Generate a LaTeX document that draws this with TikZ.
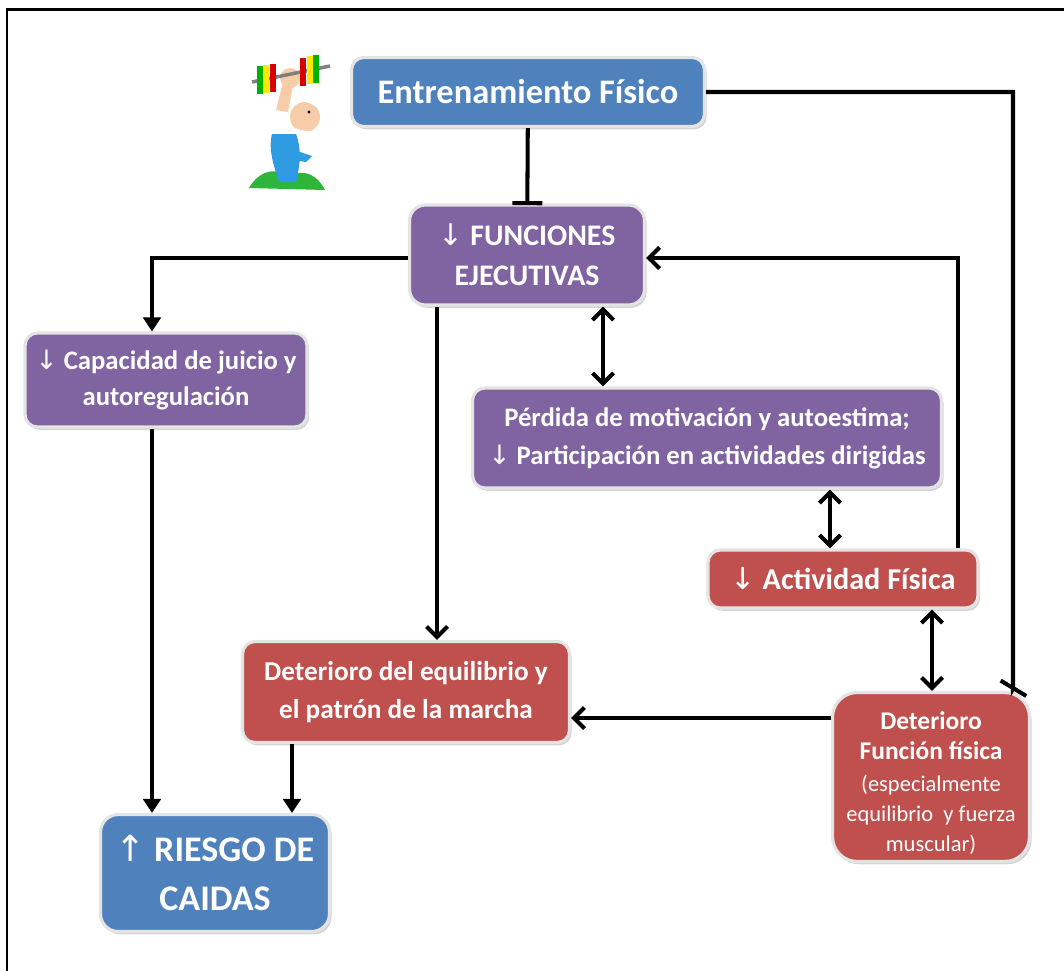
\documentclass[tikz,border=0pt]{standalone}
\usepackage{fontspec}
\setmainfont{Carlito}
\newfontfamily\arrowfont{DejaVu Sans}
\usetikzlibrary{arrows.meta, positioning, shadows, calc}
\definecolor{boxblue}{HTML}{4F81BD}
\definecolor{boxpurple}{HTML}{8064A2}
\definecolor{boxred}{HTML}{C0504D}
\definecolor{rim}{HTML}{E4E4E4}
\definecolor{suit}{HTML}{2F9BE3}
\definecolor{skin}{HTML}{F6CDA8}
\definecolor{grass}{HTML}{2FB53A}
\tikzstyle{box} = [rectangle, rounded corners=7pt, draw=rim, line width=1.8pt, text=white, font=\bfseries, align=center, inner sep=1pt, drop shadow={shadow xshift=1.2pt, shadow yshift=-1.6pt, opacity=0.35}]
\tikzstyle{bluebox} = [box, fill=boxblue]
\tikzstyle{purplebox} = [box, fill=boxpurple]
\tikzstyle{redbox} = [box, fill=boxred]
\tikzstyle{link} = [line width=2.3pt, -{Straight Barb[length=6pt,width=12pt]}]
\tikzstyle{both} = [line width=2.3pt, {Straight Barb[length=6pt,width=12pt]}-{Straight Barb[length=6pt,width=12pt]}]
\tikzstyle{fall} = [line width=2.3pt, -{Triangle[length=8pt,width=10pt]}]
\tikzstyle{stop} = [line width=2.3pt, -{Bar[width=17pt]}]
\newcommand{\dn}{{\arrowfont\mdseries\char"2193}}
\newcommand{\up}{{\arrowfont\mdseries\char"2191}}
\newcommand{\note}{\mdseries\fontsize{12.8}{15}\selectfont}

\begin{document}
\begin{tikzpicture}[x=0.02cm, y=-0.02cm]
    \useasboundingbox (0,0) rectangle (1064,970);
    \draw[line width=1.7pt] (7,990) -- (7,9.5) -- (1080,9.5);

    % boxes
    \node[bluebox, minimum width=7.06cm, minimum height=1.38cm, font=\bfseries\fontsize{19.6}{23}\selectfont] (ent) at (528,92) {Entrenamiento Físico};
    \node[purplebox, rounded corners=9pt, minimum width=4.7cm, minimum height=2cm, font=\bfseries\fontsize{17}{22.7}\selectfont] (fun) at (527,255) {\dn\ FUNCIONES\\EJECUTIVAS};
    \node[purplebox, minimum width=5.64cm, minimum height=1.88cm, font=\bfseries\fontsize{15.2}{21}\selectfont] (cap) at (166,380) {\dn\ Capacidad de juicio y\\autoregulación};
    \node[purplebox, minimum width=9.38cm, minimum height=2cm, font=\bfseries\fontsize{15.2}{21.5}\selectfont] (per) at (707,438) {Pérdida de motivación y autoestima;\\\dn\ Participación en actividades dirigidas};
    \node[redbox, minimum width=5.4cm, minimum height=1.16cm, font=\bfseries\fontsize{17.2}{20}\selectfont] (act) at (843,579) {\dn\ Actividad Física};
    \node[redbox, minimum width=6.54cm, minimum height=2.02cm, font=\bfseries\fontsize{15.5}{22}\selectfont] (deq) at (406,692) {Deterioro del equilibrio y\\el patrón de la marcha};
    \node[redbox, rounded corners=14pt, minimum width=3.94cm, minimum height=3.38cm, font=\bfseries\fontsize{14.5}{17}\selectfont] (dff) at (931,777)
        {\rule{0pt}{17pt}Deterioro\\Función física\\[1.5pt]{\note (especialmente}\\{\note equilibrio\ \ y fuerza}\\{\note muscular)}};
    \node[bluebox, rounded corners=10pt, minimum width=4.58cm, minimum height=2.34cm, font=\bfseries\fontsize{20.5}{27.5}\selectfont] (rie) at (215,873) {\up\ RIESGO DE\\CAIDAS};

    \coordinate (rt) at (1013,92);
    \coordinate (lt) at (152,258);
    \coordinate (rb) at (958,258);

    % connectors
    \draw[stop, shorten >=-1pt] (ent) -- (fun);
    \draw[stop] (ent.east) -- (rt) -- (1013,689) -- ++(-0.6,1);
    \draw[fall] (fun.west |- lt) -- (lt) -- (lt |- cap.north);
    \draw[link] (rb |- act.north) -- (rb) -- (fun.east |- rb);
    \draw[link] (fun.south -| 437,0) -- (deq.north -| 437,0);
    \draw[both] (fun.south -| 603,0) -- (per.north -| 603,0);
    \draw[both] (per.south -| 830,0) -- (act.north -| 830,0);
    \draw[both] (act.south -| 932,0) -- (dff.north -| 932,0);
    \draw[link] (dff.west |- 0,718) -- (deq.east |- 0,718);
    \draw[fall] (cap.south -| 152,0) -- (rie.north -| 152,0);
    \draw[fall] (deq.south -| 292,0) -- (rie.north -| 292,0);

    % little man with the dumbbell
    \fill[grass] (249,188) .. controls (262,166) and (280,170) .. (290,176) .. controls (305,168) and (318,176) .. (325,190) -- cycle;
    \fill[suit] (272,134) .. controls (268,150) and (274,166) .. (279,182) -- (296,182) .. controls (300,165) and (302,150) .. (296,134) -- cycle;
    \fill[suit] (294,150) -- (312,156) -- (306,162) -- (293,160) -- cycle;
    \fill[white] (266,112) .. controls (262,128) and (280,136) .. (290,128) -- (284,106) -- cycle;
    \fill[skin] (276,110) -- (284,78) -- (294,80) -- (288,112) -- cycle;
    \fill[skin] (290,78) circle (10);
    \fill[skin] (305,117) circle (15);
    \fill[white] (296,128) .. controls (300,142) and (318,140) .. (322,128) .. controls (316,132) and (302,132) .. (296,128) -- cycle;
    \fill[white] (306,102) .. controls (318,96) and (330,104) .. (326,120) .. controls (322,110) and (314,104) .. (306,102) -- cycle;
    \fill[black] (309,112) circle (1.6);
    \draw[gray, line width=2pt] (252,82) -- (330,66);
    \foreach \x/\c in {260/green!70!black, 266/yellow!90!orange, 273/red!85!black, 303/red!85!black, 310/yellow!90!orange, 316/green!70!black} {
        \fill[\c] ($(252,82)!{(\x-252)/78}!(330,66) + (-3,-14)$) rectangle ++(6,28);
    }
\end{tikzpicture}
\end{document}
